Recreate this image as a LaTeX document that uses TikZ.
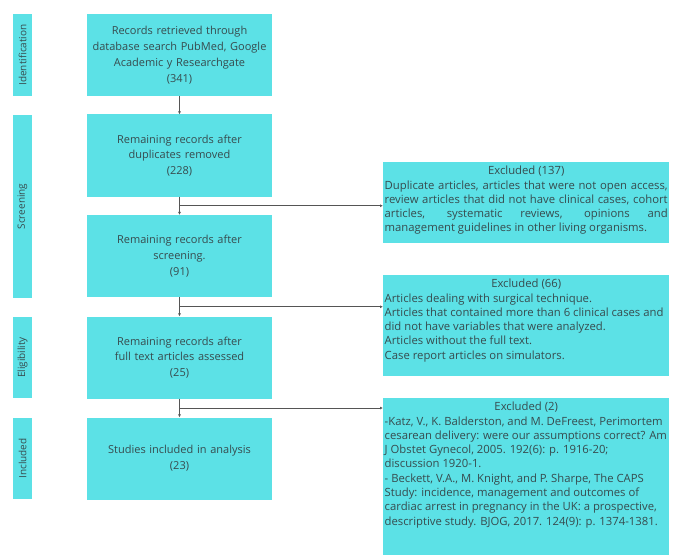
\documentclass[tikz,border=0pt]{standalone}
\usepackage{fontspec}
\setmainfont{Open Sans}
\usepackage{tikz}
\usetikzlibrary{arrows.meta,calc}

\definecolor{boxcyan}{RGB}{92,225,230}
\definecolor{boxtext}{RGB}{55,75,78}
\definecolor{linegray}{RGB}{85,85,85}

\begin{document}
\begin{tikzpicture}[x=1pt,y=-1pt,
  mainbox/.style={fill=boxcyan,text=boxtext,minimum width=185pt,minimum height=82pt,
    text width=180pt,align=center,inner sep=0pt,font=\fontsize{11}{15.8}\selectfont},
  sidebox/.style={fill=boxcyan,text=boxtext,rotate=90,minimum height=19pt,inner sep=0pt,
    font=\fontsize{10}{11}\selectfont},
  exbox/.style={fill=boxcyan,text=boxtext,anchor=north west,inner xsep=1.5pt,inner ysep=4pt,
    font=\fontsize{11.3}{14.3}\selectfont},
  arr/.style={draw=linegray,line width=0.8pt,-{Latex[length=3pt,width=3pt]}}]
\useasboundingbox (0,0) rectangle (679,556);
% Etapas
\node[sidebox,minimum width=82pt] (sid) at (22.5,55) {Identification};
\node[sidebox,minimum width=183pt] (sscr) at (22.5,206.5) {Screening};
\node[sidebox,minimum width=81pt] (selg) at (22.5,357.5) {Eligibility};
\node[sidebox,minimum width=81pt] (sinc) at (22.5,458.5) {Included};
% Caixas principais
\node[mainbox] (b1) at (179.5,55) {Records retrieved through\\database search PubMed, Google\\Academic y Researchgate\\(341)};
\node[mainbox] (b2) at (179.5,155.5) {Remaining records after\\duplicates removed\\(228)};
\node[mainbox] (b3) at (179.5,256) {Remaining records after\\screening.\\(91)};
\node[mainbox] (b4) at (179.5,357.5) {Remaining records after\\full text articles assessed\\(25)};
\node[mainbox] (b5) at (179.5,458.5) {Studies included in analysis\\(23)};
% Excluidos
\node[exbox] (ex1) at (383,162) {\parbox[t][73pt][t]{283pt}{\centerline{Excluded (137)}%
Duplicate articles, articles that were not open access,\linebreak
review articles that did not have clinical cases, cohort\linebreak
articles, systematic reviews, opinions and\linebreak
management guidelines in other living organisms.}};
\node[exbox] (ex2) at (383,275) {\parbox[t][93pt][t]{283pt}{\raggedright\centerline{Excluded (66)}%
Articles dealing with surgical technique.\\
Articles that contained more than 6 clinical cases and\\
did not have variables that were analyzed.\\
Articles without the full text.\\
Case report articles on simulators.}};
\node[exbox] (ex3) at (383,398) {\parbox[t][149pt][t]{283pt}{\raggedright\centerline{Excluded (2)}%
-Katz, V., K. Balderston, and M. DeFreest, Perimortem\\
cesarean delivery: were our assumptions correct? Am\\
J Obstet Gynecol, 2005. 192(6): p. 1916-20;\\
discussion 1920-1.\\
- Beckett, V.A., M. Knight, and P. Sharpe, The CAPS\\
Study: incidence, management and outcomes of\\
cardiac arrest in pregnancy in the UK: a prospective,\\
descriptive study. BJOG, 2017. 124(9): p. 1374-1381.}};
% Setas
\draw[arr] (b1) -- (b2);
\draw[arr] (b2) -- (b3);
\draw[arr] (b3) -- (b4);
\draw[arr] (b4) -- (b5);
\coordinate (m1) at ($(b2.south)!0.5!(b3.north)$);
\coordinate (m2) at ($(b3.south)!0.5!(b4.north)$);
\coordinate (m3) at ($(b4.south)!0.5!(b5.north)$);
\draw[arr] (m1) -- (m1 -| ex1.west);
\draw[arr] (m2) -- (m2 -| ex2.west);
\draw[arr] (m3) -- (m3 -| ex3.west);
\end{tikzpicture}
\end{document}
